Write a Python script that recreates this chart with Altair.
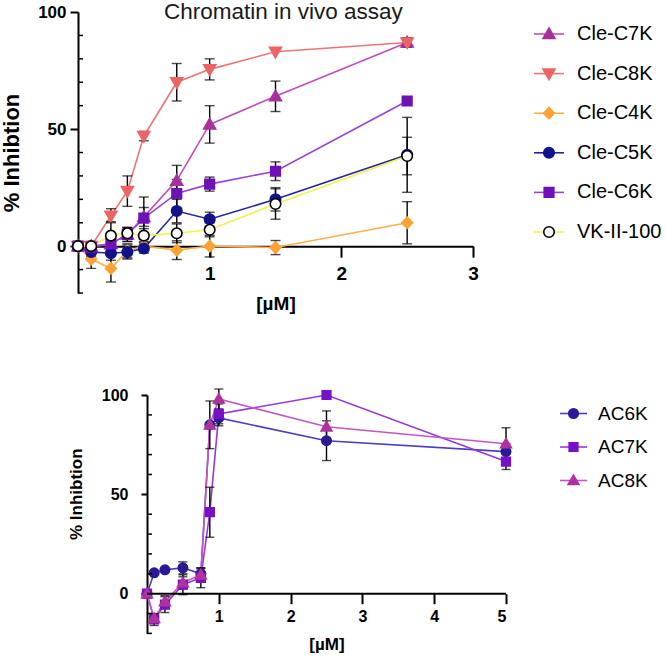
import altair as alt
import pandas as pd

FONT = "Liberation Sans"

# ---------------- top panel data ----------------
top_x = [0, 0.1, 0.25, 0.375, 0.5, 0.75, 1, 1.5, 2.5]
top_names = ["Cle-C7K", "Cle-C8K", "Cle-C4K", "Cle-C5K", "Cle-C6K", "VK-II-100"]
cle_c7k = [0, 0, 1, 5, 12.5, 28, 52, 64, 87]
cle_c8k = [0, 0, 13, 23.5, 47, 70, 75.5, 83, 87]
cle_c4k = [0, -5.5, -9.5, -2, 0, -1.7, 0, -0.6, 10]
cle_c5k = [0, -2.5, -3, -2.5, -1, 15, 11.5, 20, 39]
cle_c6k = [0, -0.5, 1, 5, 12, 22.5, 26.5, 32, 62]
vk_ii_100 = [0, 0, 4.5, 5.5, 4.5, 5.5, 7, 18, 38.5]
err_c7k = [0, 2, 2, 3, 4, 6.5, 8, 6.5, 2]
err_c8k = [0, 1, 3, 6.5, 2, 8, 4.5, 0, 2]
err_c4k = [0, 4, 5.8, 3, 2, 4, 4.6, 3, 9]
err_c5k = [0, 2, 3, 3, 2, 5, 3, 5, 16]
err_c6k = [0, 2, 4, 3, 9, 6, 3, 4, 0]
err_vk = [0, 1, 6, 2, 3, 4, 3, 6.5, 8]
top_line_colors = ["#c24dba", "#f07373", "#ffb04d", "#2424a0", "#9444dc", "#f2f24a"]
top_fills = ["#a8309e", "#ee6464", "#ffa233", "#12128a", "#6e12b8", "#ffffff"]
top_strokes = ["#a8309e", "#ee6464", "#ffa233", "#12128a", "#6e12b8", "#000000"]

# ---------------- bottom panel data ----------------
bot_x = [0, 0.1, 0.25, 0.5, 0.75, 0.875, 1, 2.5, 5]
bot_names = ["AC6K", "AC7K", "AC8K"]
ac6k = [0, 10.5, 12, 13, 10, 85, 88.5, 77, 71.5]
ac7k = [0, -13, -5.5, 4.5, 8, 41, 90.5, 100, 66.5]
ac8k = [0, -12.5, -4, 5.5, 9.5, 85, 98, 84, 75.5]
err_ac6k = [0, 0, 0, 3, 3, 0, 4, 10, 4]
err_ac7k = [0, 3, 4, 5, 5, 12.6, 5, 0, 4]
err_ac8k = [0, 2, 3, 3, 3, 12, 5, 8, 8]
bot_line_colors = ["#4a3cc4", "#9638dc", "#c655c4"]
bot_fills = ["#2a1a96", "#7810c8", "#b0329e"]
bot_strokes = ["#2a1a96", "#7810c8", "#b0329e"]

# small marker glyphs (unit-square SVG paths, drawn inside a larger symbol box)
TRI_UP = "M0,-0.4L0.4,0.3L-0.4,0.3Z"
TRI_DOWN = "M0,0.4L0.4,-0.3L-0.4,-0.3Z"
DIAMOND = "M0,-0.38L0.36,0L0,0.38L-0.36,0Z"
SQUARE = "M-0.32,-0.32H0.32V0.32H-0.32Z"
CIRCLE = "M0.35,0A0.35,0.35 0 1,1 -0.35,0A0.35,0.35 0 1,1 0.35,0Z"
top_shapes = [TRI_UP, TRI_DOWN, DIAMOND, CIRCLE, SQUARE, CIRCLE]
bot_shapes = [CIRCLE, SQUARE, TRI_UP]

y_major = [0, 50, 100]
y_minor = [-20, -10, 10, 20, 30, 40, 60, 70, 80, 90]
top_x_ticks = [1, 2, 3]
bot_x_ticks = [1, 2, 3, 4, 5]


def long_table(xs, names, vals, errs):
    rows = []
    for name, v, e in zip(names, vals, errs):
        for x, y, err in zip(xs, v, e):
            rows.append({"x": x, "y": y, "err": err, "lo": y - err, "hi": y + err,
                         "series": name, "line": name})
    return pd.DataFrame(rows)


def build_panel(df, names, line_colors, fills, strokes, shapes, sym_size,
                width, height, x_domain, y_domain, x_axis, y_axis,
                legend_pos, label_size, cap_size, extra_layers=(), title=None):
    lx, ly, row_pad, label_off = legend_pos
    common = dict(title=None, orient="none", legendX=lx, legendY=ly, symbolSize=sym_size,
                  symbolStrokeWidth=1.6, labelFont=FONT, labelFontSize=label_size,
                  labelOffset=label_off, labelLimit=0, rowPadding=row_pad, padding=0)
    line_legend = alt.Legend(symbolType="stroke", **common)
    mark_legend = alt.Legend(labelOpacity=0, **common)

    xs = alt.Scale(domain=x_domain, nice=False, zero=False)
    ys = alt.Scale(domain=y_domain, nice=False, zero=False)
    X = alt.X("x:Q", scale=xs, axis=x_axis)
    Y = alt.Y("y:Q", scale=ys, axis=y_axis)
    base = alt.Chart(df)
    lines = base.mark_line(strokeWidth=1.6).encode(
        x=X, y=Y,
        color=alt.Color("line:N", sort=names, scale=alt.Scale(range=line_colors),
                        legend=line_legend))
    eb = df[df.err > 0]
    bars = alt.Chart(eb).mark_rule(color="black", strokeWidth=1.4).encode(
        x=X, y=alt.Y("lo:Q", scale=ys, axis=y_axis), y2=alt.Y2("hi:Q"))
    cap_lo = alt.Chart(eb).mark_tick(orient="horizontal", color="black", size=cap_size,
                                     thickness=1.4).encode(
        x=X, y=alt.Y("lo:Q", scale=ys, axis=y_axis))
    cap_hi = alt.Chart(eb).mark_tick(orient="horizontal", color="black", size=cap_size,
                                     thickness=1.4).encode(
        x=X, y=alt.Y("hi:Q", scale=ys, axis=y_axis))
    pts = base.mark_point(filled=True, opacity=1, size=sym_size, strokeWidth=1.6).encode(
        x=X, y=Y,
        fill=alt.Fill("series:N", scale=alt.Scale(domain=names, range=fills),
                      legend=mark_legend),
        stroke=alt.Stroke("series:N", scale=alt.Scale(domain=names, range=strokes),
                          legend=mark_legend),
        shape=alt.Shape("series:N", scale=alt.Scale(domain=names, range=shapes),
                        legend=mark_legend))
    minor = alt.Chart(pd.DataFrame({"t": y_minor})).mark_rule(
        color="black", strokeWidth=1.5, x2Offset=5).encode(
        x=alt.XDatum(0, type="quantitative", scale=xs, axis=x_axis),
        x2=alt.X2Datum(0),
        y=alt.Y("t:Q", scale=ys, axis=y_axis))
    layers = [lines, bars, cap_lo, cap_hi, pts, minor]
    for make in extra_layers:
        layers.append(make(xs, ys, x_axis, y_axis))
    props = dict(width=width, height=height)
    if title is not None:
        props["title"] = title
    return alt.layer(*layers).properties(**props)


# ---------------- geometry ----------------
TOP_W, TOP_H = 395, 281
BOT_W, BOT_H = 428, 238.4
bot_xmin = -0.961

top_df = long_table(top_x, top_names,
                    [cle_c7k, cle_c8k, cle_c4k, cle_c5k, cle_c6k, vk_ii_100],
                    [err_c7k, err_c8k, err_c4k, err_c5k, err_c6k, err_vk])
bot_df = long_table(bot_x, bot_names, [ac6k, ac7k, ac8k], [err_ac6k, err_ac7k, err_ac8k])

top_x_axis = alt.Axis(values=top_x_ticks, offset=-TOP_H * 20 / 120, tickSize=11, tickWidth=2,
                      domainWidth=2, labelFontSize=19, labelFontWeight="bold", labelPadding=7,
                      title="[µM]", titleFontSize=19, titleFontWeight="bold", titlePadding=11,
                      labelFlush=False)
top_y_axis = alt.Axis(values=y_major, tickSize=8, tickWidth=2, domainWidth=2,
                      labelFontSize=17, labelFontWeight="bold", labelPadding=4,
                      title="% Inhibtion", titleFontSize=22, titleFontWeight="bold",
                      titlePadding=14)

bot_x_axis = alt.Axis(values=bot_x_ticks, offset=-BOT_H * 20 / 120, tickSize=10, tickWidth=2,
                      domain=False, labelFontSize=16, labelFontWeight="bold", labelPadding=5,
                      title="[µM]", titleFontSize=17, titleFontWeight="bold", titlePadding=12,
                      titleX=(0 - bot_xmin) * BOT_W / (5 - bot_xmin) + 359 / 2)
bot_y_axis = alt.Axis(values=y_major, offset=bot_xmin * BOT_W / (5 - bot_xmin), tickSize=6,
                      tickWidth=2, domainWidth=2, labelFontSize=16, labelFontWeight="bold",
                      labelPadding=13, title="% Inhibtion", titleFontSize=17,
                      titleFontWeight="bold", titlePadding=16, titleY=98.7)


def bot_x_domain_line(xs, ys, x_axis, y_axis):
    return alt.Chart(pd.DataFrame({"k": [0]})).mark_rule(color="black", strokeWidth=2).encode(
        x=alt.XDatum(0, type="quantitative", scale=xs, axis=x_axis),
        x2=alt.X2Datum(5),
        y=alt.YDatum(0, type="quantitative", scale=ys, axis=y_axis))


top = build_panel(top_df, top_names, top_line_colors, top_fills, top_strokes, top_shapes, 900,
                  TOP_W, TOP_H, [0, 3], [-20, 100], top_x_axis, top_y_axis,
                  (455, 6, 13.6, 12), 20, 10,
                  title=alt.TitleParams("Chromatin in vivo assay", font=FONT, fontSize=22.5,
                                        fontWeight="normal", anchor="start", frame="group",
                                        dx=86, offset=-20, color="#1a1a1a"))

bottom = build_panel(bot_df, bot_names, bot_line_colors, bot_fills, bot_strokes, bot_shapes, 729,
                     BOT_W, BOT_H, [bot_xmin, 5], [-20, 100], bot_x_axis, bot_y_axis,
                     (481, 4, 8.5, 10), 19, 9,
                     extra_layers=[bot_x_domain_line])

chart = alt.vconcat(top, bottom, spacing=102, bounds="flush").resolve_scale(
    x="independent", y="independent", color="independent", fill="independent",
    stroke="independent", shape="independent"
).resolve_legend(
    color="independent", fill="independent", stroke="independent", shape="independent"
).properties(
    padding={"left": 0, "top": 0, "right": 0, "bottom": 0}
).configure_view(stroke=None).configure_axis(
    grid=False, domainColor="black", tickColor="black", labelColor="black",
    titleColor="black", labelFont=FONT, titleFont=FONT
).configure_legend(labelColor="black")

chart.save("out.html", embed_options={"renderer": "svg", "actions": False})
